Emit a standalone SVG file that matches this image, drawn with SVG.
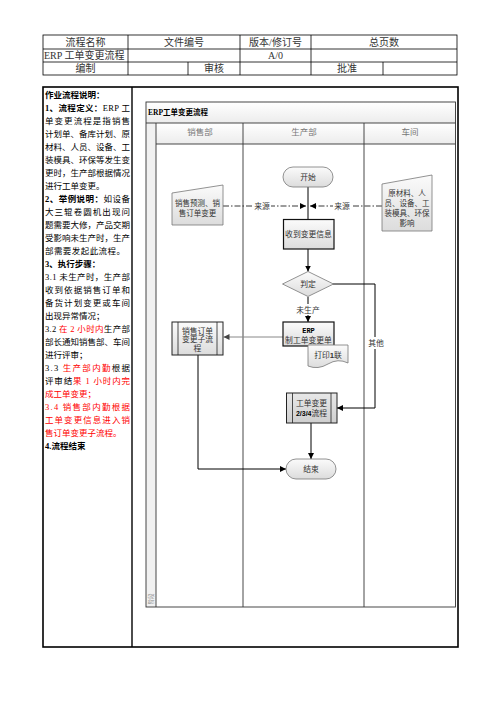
<svg xmlns="http://www.w3.org/2000/svg" width="496" height="702" viewBox="0 0 496 702">
<style>
text{font-family:"Liberation Serif","Noto Sans CJK SC",serif;}
.hd{font-size:10px;fill:#333;text-anchor:middle;}
.ds{font-size:8.5px;fill:#000;}
.b{font-weight:bold;}
.r{fill:#f00;}
.nt{font-size:7.8px;fill:#333;text-anchor:middle;}
.ln{font-size:8.5px;fill:#777;text-anchor:middle;}
.tbl{stroke:#000;stroke-width:0.8;fill:none;}
.pool{stroke:#333;stroke-width:0.9;}
.sh{fill:url(#g1);stroke:#777;stroke-width:0.8;}
.bx{fill:url(#g1);stroke:#111;stroke-width:1.2;}
.cn{fill:none;stroke:#000;stroke-width:1;}
.dd{fill:none;stroke:#222;stroke-width:0.9;stroke-dasharray:6 2 1.5 2;}
</style>
<defs>
<linearGradient id="g1" x1="0" y1="0" x2="0" y2="1"><stop offset="0" stop-color="#fbfbfb"/><stop offset="1" stop-color="#dcdcdc"/></linearGradient>
<linearGradient id="g2" x1="0" y1="0" x2="0" y2="1"><stop offset="0" stop-color="#e8e8e8"/><stop offset="1" stop-color="#cfcfcf"/></linearGradient>
<linearGradient id="g3" x1="0" y1="0" x2="0" y2="1"><stop offset="0" stop-color="#ffffff"/><stop offset="1" stop-color="#ececec"/></linearGradient>
<marker id="ar" viewBox="0 0 10 10" refX="10" refY="5" markerWidth="6" markerHeight="6" orient="auto" markerUnits="userSpaceOnUse"><path d="M0,0 L10,5 L0,10 Z" fill="#000"/></marker>
<marker id="arg" viewBox="0 0 10 10" refX="10" refY="5" markerWidth="6" markerHeight="6" orient="auto" markerUnits="userSpaceOnUse"><path d="M0,0 L10,5 L0,10 Z" fill="#444"/></marker>
</defs>
<rect width="496" height="702" fill="#fff"/>

<!-- header table -->
<g id="header">
<rect class="tbl" x="43" y="35" width="414" height="40"/>
<line class="tbl" x1="43" y1="49" x2="457" y2="49"/>
<line class="tbl" x1="43" y1="62" x2="457" y2="62"/>
<line class="tbl" x1="128" y1="35" x2="128" y2="75"/>
<line class="tbl" x1="240" y1="35" x2="240" y2="75"/>
<line class="tbl" x1="311" y1="35" x2="311" y2="75"/>
<line class="tbl" x1="188" y1="62" x2="188" y2="75"/>
<line class="tbl" x1="383" y1="62" x2="383" y2="75"/>
<text class="hd" x="85.5" y="46">流程名称</text>
<text class="hd" x="184" y="46">文件编号</text>
<text class="hd" x="275.5" y="46">版本/修订号</text>
<text class="hd" x="384" y="46">总页数</text>
<text class="hd" x="44" y="59" style="text-anchor:start">ERP 工单变更流程</text>
<text class="hd" x="275.5" y="59">A/0</text>
<text class="hd" x="85.5" y="72">编制</text>
<text class="hd" x="214" y="72">审核</text>
<text class="hd" x="347" y="72">批准</text>
</g>

<!-- outer frame -->
<g id="frame">
<rect x="43" y="87" width="415" height="560" fill="none" stroke="#000" stroke-width="1.6"/>
<line x1="132" y1="87" x2="132" y2="647" stroke="#000" stroke-width="1.4"/>
</g>

<!-- description -->
<g id="description">
<text class="ds b" x="45" y="98">作业流程说明：</text>
<text class="ds" x="45" y="111" textLength="85" lengthAdjust="spacing"><tspan class="b">1、流程定义：</tspan>ERP 工</text>
<text class="ds" x="45" y="124" textLength="85" lengthAdjust="spacing">单变更流程是指销售</text>
<text class="ds" x="45" y="137" textLength="85" lengthAdjust="spacing">计划单、备库计划、原</text>
<text class="ds" x="45" y="150" textLength="85" lengthAdjust="spacing">材料、人员、设备、工</text>
<text class="ds" x="45" y="163" textLength="85" lengthAdjust="spacing">装模具、环保等发生变</text>
<text class="ds" x="45" y="176" textLength="85" lengthAdjust="spacing">更时，生产部根据情况</text>
<text class="ds" x="45" y="189">进行工单变更。</text>
<text class="ds" x="45" y="202" textLength="85" lengthAdjust="spacing"><tspan class="b">2、举例说明：</tspan>如设备</text>
<text class="ds" x="45" y="215" textLength="85" lengthAdjust="spacing">大三辊卷圆机出现问</text>
<text class="ds" x="45" y="228" textLength="85" lengthAdjust="spacing">题需要大修，产品交期</text>
<text class="ds" x="45" y="241" textLength="85" lengthAdjust="spacing">受影响未生产时，生产</text>
<text class="ds" x="45" y="254" textLength="80" lengthAdjust="spacing">部需要发起此流程。</text>
<text class="ds b" x="45" y="267">3、执行步骤：</text>
<text class="ds" x="45" y="280" textLength="85" lengthAdjust="spacing">3.1 未生产时，生产部</text>
<text class="ds" x="45" y="293" textLength="85" lengthAdjust="spacing">收到依据销售订单和</text>
<text class="ds" x="45" y="306" textLength="85" lengthAdjust="spacing">备货计划变更或车间</text>
<text class="ds" x="45" y="319">出现异常情况；</text>
<text class="ds" x="45" y="332" textLength="85" lengthAdjust="spacing">3.2 <tspan class="r">在 2 小时内</tspan>生产部</text>
<text class="ds" x="45" y="345" textLength="85" lengthAdjust="spacing">部长通知销售部、车间</text>
<text class="ds" x="45" y="358">进行评审；</text>
<text class="ds" x="45" y="371" textLength="85" lengthAdjust="spacing">3.3 <tspan class="r">生产部内勤</tspan>根据</text>
<text class="ds" x="45" y="384" textLength="85" lengthAdjust="spacing">评审结<tspan class="r">果 1 小时内完</tspan></text>
<text class="ds r" x="45" y="397">成工单变更；</text>
<text class="ds r" x="45" y="410" textLength="85" lengthAdjust="spacing">3.4 销售部内勤根据</text>
<text class="ds r" x="45" y="423" textLength="85" lengthAdjust="spacing">工单变更信息进入销</text>
<text class="ds r" x="45" y="436">售订单变更子流程。</text>
<text class="ds b" x="45" y="449">4.流程结束</text>
</g>

<!-- swimlane pool -->
<g id="pool">
<rect x="146" y="102" width="309.5" height="21" fill="url(#g3)"/>
<rect x="156" y="123" width="299.5" height="21" fill="url(#g3)"/>
<rect x="146" y="123" width="10" height="484" fill="#f1f1f1"/>
<rect class="pool" x="146" y="102" width="309.5" height="505" fill="none"/>
<line class="pool" x1="146" y1="123" x2="455.5" y2="123"/>
<line class="pool" x1="156" y1="144" x2="455.5" y2="144"/>
<line class="pool" x1="156" y1="123" x2="156" y2="607"/>
<line class="pool" x1="243" y1="123" x2="243" y2="607"/>
<line class="pool" x1="364" y1="123" x2="364" y2="607"/>
<text x="148" y="115" style="font-size:7.5px;font-weight:bold;fill:#000">ERP工单变更流程</text>
<text class="ln" x="200" y="134.5">销售部</text>
<text class="ln" x="304" y="134.5">生产部</text>
<text class="ln" x="410" y="134.5">车间</text>
<text transform="translate(153,599) rotate(-90)" style="font-size:5.5px;fill:#888;text-anchor:middle">阶段</text>
</g>

<!-- connectors -->
<g id="connectors">
<line class="dd" x1="223" y1="206" x2="306" y2="206" marker-end="url(#ar)"/>
<line class="dd" x1="382" y1="206" x2="310" y2="206" marker-end="url(#ar)"/>
<rect x="253" y="200" width="18" height="11" fill="#fff"/>
<rect x="333" y="200" width="18" height="11" fill="#fff"/>
<text class="nt" x="262" y="209">来源</text>
<text class="nt" x="342" y="209">来源</text>
<line class="cn" x1="308" y1="187" x2="308" y2="219"/>
<line class="cn" x1="308" y1="249" x2="308" y2="271.5" marker-end="url(#ar)"/>
<line class="cn" x1="308" y1="297" x2="308" y2="322" marker-end="url(#ar)"/>
<rect x="296" y="304" width="24" height="11" fill="#fff"/>
<text class="nt" x="308" y="313">未生产</text>
<polyline class="cn" points="333,284 375,284 375,408 337,408" marker-end="url(#ar)"/>
<rect x="367" y="337" width="17" height="12" fill="#fff"/>
<text class="nt" x="376" y="346">其他</text>
<line x1="283" y1="337" x2="223.5" y2="337" stroke="#888" stroke-width="1" marker-end="url(#arg)"/>
<line class="cn" x1="311" y1="423" x2="311" y2="459" marker-end="url(#ar)"/>
<polyline class="cn" points="198,355 198,469 286,469" marker-end="url(#ar)"/>
</g>

<!-- nodes -->
<g id="start">
<rect class="sh" x="283" y="167" width="50" height="20" rx="10"/>
<text class="nt" x="308" y="180">开始</text>
</g>
<g id="sales-input">
<path class="sh" d="M172,193 L223,185 L223,225 L172,225 Z"/>
<text class="nt" x="197.5" y="206" style="font-size:7.5px">销售预测、销</text>
<text class="nt" x="197.5" y="216" style="font-size:7.5px">售订单变更</text>
</g>
<g id="workshop-input">
<path class="sh" d="M382,184 L432,175 L432,231 L382,231 Z"/>
<text class="nt" x="407" y="196" style="font-size:7.5px">原材料、人</text>
<text class="nt" x="407" y="206" style="font-size:7.5px">员、设备、工</text>
<text class="nt" x="407" y="216" style="font-size:7.5px">装模具、环保</text>
<text class="nt" x="407" y="226" style="font-size:7.5px">影响</text>
</g>
<g id="receive">
<rect class="bx" x="283.5" y="219.5" width="50.5" height="29.5"/>
<text class="nt" x="308.5" y="237">收到变更信息</text>
</g>
<g id="decide">
<path class="sh" d="M308,271.5 L333.5,284 L308,296.5 L282.5,284 Z"/>
<text class="nt" x="308" y="287">判定</text>
</g>
<g id="erp-form">
<rect class="bx" x="283" y="322" width="51" height="24"/>
<text class="nt" x="308.5" y="333" style="font-family:'Liberation Mono',monospace;font-weight:bold;font-size:7px;fill:#000">ERP</text>
<text class="nt" x="308.5" y="342.5">制工单变更单</text>
</g>
<g id="print">
<path class="sh" d="M308,345 H348 V363 Q338,358 328,364 T308,366 Z"/>
<text class="nt" x="328" y="358">打印<tspan style="font-family:'Liberation Sans',sans-serif;font-weight:bold">1</tspan>联</text>
</g>
<g id="sales-subprocess">
<rect x="172" y="322" width="51" height="33" fill="url(#g1)" stroke="#222" stroke-width="1"/>
<line x1="178" y1="322" x2="178" y2="355" stroke="#222" stroke-width="0.8"/>
<line x1="217" y1="322" x2="217" y2="355" stroke="#222" stroke-width="0.8"/>
<text class="nt" x="197.5" y="333.5">销售订单</text>
<text class="nt" x="197.5" y="342">变更子流</text>
<text class="nt" x="197.5" y="350.5">程</text>
</g>
<g id="workorder-subprocess">
<rect x="286.5" y="393" width="50.5" height="30" fill="url(#g2)" stroke="#222" stroke-width="1"/>
<line x1="292.5" y1="393" x2="292.5" y2="423" stroke="#222" stroke-width="0.8"/>
<line x1="331" y1="393" x2="331" y2="423" stroke="#222" stroke-width="0.8"/>
<text class="nt" x="311.5" y="405.5">工单变更</text>
<text class="nt" x="311.5" y="415.5"><tspan style="font-family:'Liberation Sans',sans-serif;font-weight:bold;font-size:7px;fill:#000">2/3/4</tspan>流程</text>
</g>
<g id="end">
<rect class="sh" x="286" y="459" width="50" height="20" rx="10"/>
<text class="nt" x="311" y="472">结束</text>
</g>
</svg>
